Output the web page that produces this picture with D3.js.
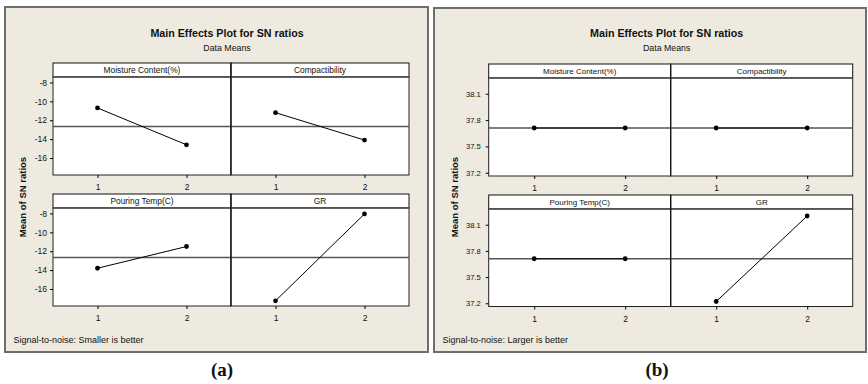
<!DOCTYPE html>
<html>
<head>
<meta charset="utf-8">
<script src="https://cdn.jsdelivr.net/npm/d3@7"></script>
<style>
  html, body { margin: 0; padding: 0; background: #ffffff; }
  svg { display: block; }
  text { font-family: "Liberation Sans", Arial, sans-serif; fill: #111; }
</style>
</head>
<body>
<svg id="chart" width="868" height="384"></svg>
<script>
// ---------- data ----------
const factors = ["Moisture Content(%)", "Compactibility", "Pouring Temp(C)", "GR"];
const levels = [1, 2];

// (a) Signal-to-noise: Smaller is better
const aMoisture = [-10.7, -14.6];
const aCompact  = [-11.2, -14.1];
const aPouring  = [-13.8, -11.5];
const aGR       = [-17.25, -8.05];
const aTicks    = [-16, -14, -12, -10, -8];
const aTickLabels = ["-16", "-14", "-12", "-10", "-8"];

// (b) Signal-to-noise: Larger is better
const bMoisture = [37.71, 37.71];
const bCompact  = [37.71, 37.71];
const bPouring  = [37.71, 37.71];
const bGR       = [37.22, 38.20];
const bTicks    = [37.2, 37.5, 37.8, 38.1];
const bTickLabels = ["37.2", "37.5", "37.8", "38.1"];

const titleText = "Main Effects Plot for SN ratios";
const subtitleText = "Data Means";
const yTitleText = "Mean of SN ratios";
const footA = "Signal-to-noise: Smaller is better";
const footB = "Signal-to-noise: Larger is better";

// ---------- drawing ----------
const svg = d3.select("#chart");

function drawPanel(cfg) {
  const g = svg.append("g");
  // frame
  g.append("rect")
    .attr("x", cfg.frame[0]).attr("y", cfg.frame[1])
    .attr("width", cfg.frame[2] - cfg.frame[0]).attr("height", cfg.frame[3] - cfg.frame[1])
    .attr("fill", "#eeeae0").attr("stroke", "#6e6e6e").attr("stroke-width", 2);

  const cx = (cfg.plotX[0] + cfg.plotX[2]) / 2 - 4;
  g.append("text").attr("x", cx).attr("y", 33).attr("dy", "0.35em")
    .attr("text-anchor", "middle").attr("font-weight", "bold").attr("font-size", 10.7)
    .text(titleText);
  g.append("text").attr("x", cx).attr("y", 48).attr("dy", "0.35em")
    .attr("text-anchor", "middle").attr("font-size", 8.8)
    .text(subtitleText);

  // y axis title
  g.append("text")
    .attr("transform", `translate(${cfg.yTitleX},197) rotate(-90)`)
    .attr("dy", "0.35em")
    .attr("text-anchor", "middle").attr("font-weight", "bold").attr("font-size", 9.5)
    .text(yTitleText);

  // footer
  g.append("text").attr("x", cfg.frame[0] + 8.5).attr("y", 340).attr("dy", "0.35em")
    .attr("font-size", 9).text(cfg.foot);

  // label
  g.append("text").attr("x", cfg.labelX).attr("y", 369).attr("dy", "0.35em")
    .attr("text-anchor", "middle").attr("font-weight", "bold").attr("font-size", 19)
    .style("font-family", "'Liberation Serif', 'Times New Roman', serif")
    .text(cfg.label);

  const series = cfg.series;
  const allVals = series.flat();
  const grandMean = d3.mean(allVals);

  cfg.rows.forEach((row, r) => {
    [0, 1].forEach(c => {
      const idx = r * 2 + c;
      const x0 = cfg.plotX[c], x1 = cfg.plotX[c + 1];
      const x = d3.scaleLinear().domain([0.5, 2.5]).range([x0, x1]);
      const y = d3.scaleLinear().domain(cfg.domain).range([row.plot[1], row.plot[0]]);

      // header
      g.append("rect").attr("x", x0).attr("y", row.header)
        .attr("width", x1 - x0).attr("height", row.plot[0] - row.header)
        .attr("fill", "#ffffff").attr("stroke", "#111").attr("stroke-width", 1);
      g.append("text").attr("x", (x0 + x1) / 2).attr("y", (row.header + row.plot[0]) / 2)
        .attr("dy", "0.35em").attr("text-anchor", "middle").attr("font-size", cfg.headFont)
        .text(factors[idx]);

      // plot area
      g.append("rect").attr("x", x0).attr("y", row.plot[0])
        .attr("width", x1 - x0).attr("height", row.plot[1] - row.plot[0])
        .attr("fill", "#ffffff").attr("stroke", "#222").attr("stroke-width", 1);
      // header bottom line
      g.append("line").attr("x1", x0).attr("x2", x1)
        .attr("y1", row.plot[0]).attr("y2", row.plot[0])
        .attr("stroke", "#555").attr("stroke-width", 1.6);

      // mean reference line
      g.append("line").attr("x1", x0).attr("x2", x1)
        .attr("y1", y(grandMean)).attr("y2", y(grandMean))
        .attr("stroke", "#555").attr("stroke-width", 1.5);

      // effect line
      const pts = levels.map((l, i) => [l, series[idx][i]]);
      g.append("path").datum(pts)
        .attr("d", d3.line().x(d => x(d[0])).y(d => y(d[1])))
        .attr("fill", "none").attr("stroke", "#000").attr("stroke-width", 1);
      g.selectAll(null).data(pts).enter().append("circle")
        .attr("cx", d => x(d[0])).attr("cy", d => y(d[1])).attr("r", 2.4)
        .attr("fill", "#000");

      // x axis
      const xa = g.append("g").attr("transform", `translate(0,${row.plot[1]})`)
        .call(d3.axisBottom(x).tickValues(levels).tickSize(3).tickPadding(6).tickFormat(d3.format("d")));
      xa.select(".domain").remove();
      xa.selectAll("text").attr("font-size", 8.5).style("font-family", "'Liberation Sans', Arial, sans-serif").attr("fill", "#111");

      // y axis
      if (c === 0) {
        const ya = g.append("g").attr("transform", `translate(${x0},0)`)
          .call(d3.axisLeft(y).tickValues(cfg.ticks).tickSize(3).tickPadding(cfg.yPad)
            .tickFormat((d, i) => cfg.tickLabels[i]));
        ya.select(".domain").remove();
        ya.selectAll("text").attr("font-size", cfg.tickFont).style("font-family", "'Liberation Sans', Arial, sans-serif").attr("fill", "#111");
      }
    });
    // middle divider emphasis
    g.append("line").attr("x1", cfg.plotX[1]).attr("x2", cfg.plotX[1])
      .attr("y1", row.header).attr("y2", row.plot[1])
      .attr("stroke", "#111").attr("stroke-width", 1.2);
  });
}

drawPanel({
  frame: [5, 7, 428, 352],
  plotX: [53, 231, 409],
  rows: [{ header: 63, plot: [77, 175] }, { header: 194, plot: [208, 306] }],
  domain: [-17.8, -7.42],
  ticks: aTicks, tickLabels: aTickLabels,
  series: [aMoisture, aCompact, aPouring, aGR],
  yTitleX: 23, foot: footA, label: "(a)", labelX: 222,
  headFont: 8.4, tickFont: 8.5, yPad: 3
});

drawPanel({
  frame: [434, 8, 866, 352],
  plotX: [488.7, 670.7, 852.7],
  rows: [{ header: 64, plot: [78, 176] }, { header: 195, plot: [209, 306.5] }],
  domain: [37.163, 38.28],
  ticks: bTicks, tickLabels: bTickLabels,
  series: [bMoisture, bCompact, bPouring, bGR],
  yTitleX: 455, foot: footB, label: "(b)", labelX: 657,
  headFont: 8, tickFont: 7.6, yPad: 5
});
</script>
</body>
</html>
